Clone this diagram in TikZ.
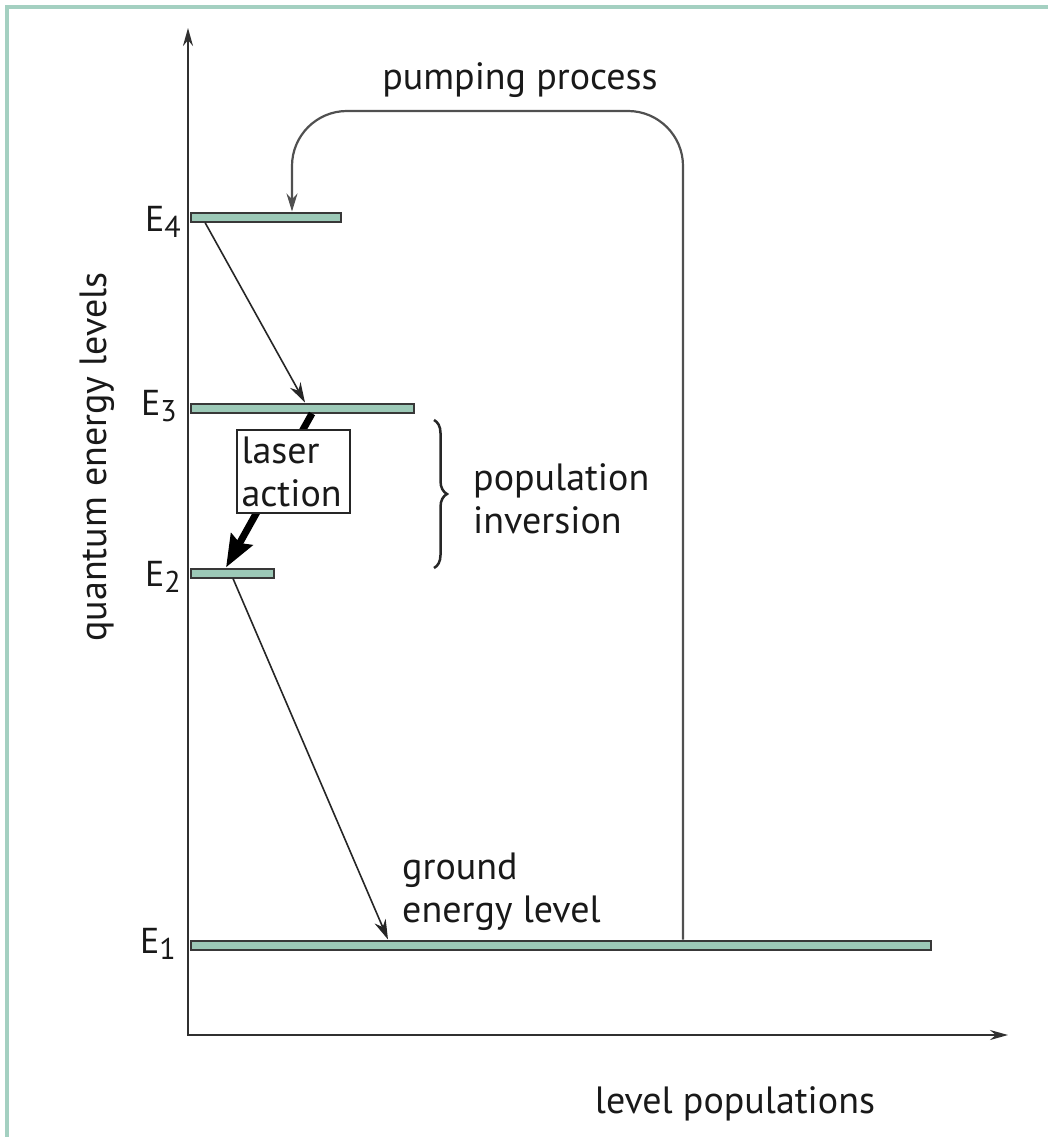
\documentclass[tikz,border=0pt]{standalone}
\usepackage{fontspec}
\setmainfont{PT Sans}
\usetikzlibrary{arrows.meta,decorations.pathreplacing,calc}
\definecolor{barfill}{HTML}{9CC9B7}
\definecolor{framecol}{HTML}{A4D0C1}
\definecolor{barline}{HTML}{383838}
\definecolor{pumpcol}{HTML}{505050}
\definecolor{axiscol}{HTML}{303030}
\newcommand\lvsub[1]{\raisebox{-6pt}{\fontsize{30}{30}\selectfont #1}}
\begin{document}
\begin{tikzpicture}[x=1pt,y=-1pt,
  every node/.style={font=\fontsize{38}{43}\selectfont, inner sep=0pt, text=black!90},
  bar/.style={draw=barline, fill=barfill, line width=2pt, minimum height=9pt, inner sep=0pt, anchor=west},
  axisline/.style={draw=axiscol, line width=2pt},
  thinarrow/.style={draw=black!85, line width=1.6pt, -{Stealth[length=20pt,width=12pt]}},
  lvlabel/.style={anchor=base west, font=\fontsize{36}{40}\selectfont},
]
\useasboundingbox (0,0) rectangle (1047,1137);
% frame
\draw[framecol, line width=3.5pt] (7,1160) -- (7,7) -- (1070,7);
% axes
\coordinate (ytop) at (188,28);
\coordinate (O) at (188,1035);
\coordinate (xend) at (1008,1035);
\draw[axisline, {Stealth[length=18pt,width=10pt]}-{Stealth[length=18pt,width=10pt]}] (ytop) -- (O) -- (xend);
% bars
\node[bar, minimum width=150pt] (E4) at (190,217) {};
\node[bar, minimum width=223pt] (E3) at (190,408) {};
\node[bar, minimum width=83pt] (E2) at (190,573) {};
\node[bar, minimum width=740pt] (E1) at (190,945) {};
% level labels
\node[lvlabel] (lE4) at (145,231) {E\lvsub{4}};
\node[lvlabel] (lE3) at (141,415) {E\lvsub{3}};
\node[lvlabel] (lE2) at (145,586) {E\lvsub{2}};
\node[lvlabel] (lE1) at (140,953) {E\lvsub{1}};
% E4 -> E3
\draw[thinarrow] ([xshift=15pt]E4.south west) -- ([xshift=115pt]E3.north west);
% laser action
\draw[line width=7pt, black, -{Stealth[length=32pt,width=24pt,inset=4pt]}] ([xshift=122pt]E3.south west) -- ([xshift=36pt]E2.north west);
\node[draw=black!85, line width=1.5pt, fill=white, minimum width=113pt, minimum height=83pt, align=left, text width=104pt] (laser) at (293.5,471.5) {laser\\action};
% E2 -> E1
\draw[thinarrow] ([xshift=43pt]E2.south west) -- ([xshift=198pt]E1.north west);
% pumping process
\draw[pumpcol, line width=2.2pt, rounded corners=55pt, -{Stealth[length=18pt,width=11pt]}]
  ([xshift=493pt]E1.north west) -- (683,111) -- (292,111) -- ([xshift=102pt]E4.north west);
\node (pump) at (520,80) {pumping process};
% brace
\draw[black!85, line width=2.5pt, decorate, decoration={brace, amplitude=13pt}] (434,420) -- (434,568);
\node[anchor=west, align=left] (inv) at (473,499) {population\\inversion};
% other labels
\node[anchor=west, align=left] (ground) at (402,892) {ground\\energy level};
\node (xlabel) at (735,1104) {level populations};
\node[rotate=90] (ylabel) at (97,457) {quantum energy levels};
\end{tikzpicture}
\end{document}
